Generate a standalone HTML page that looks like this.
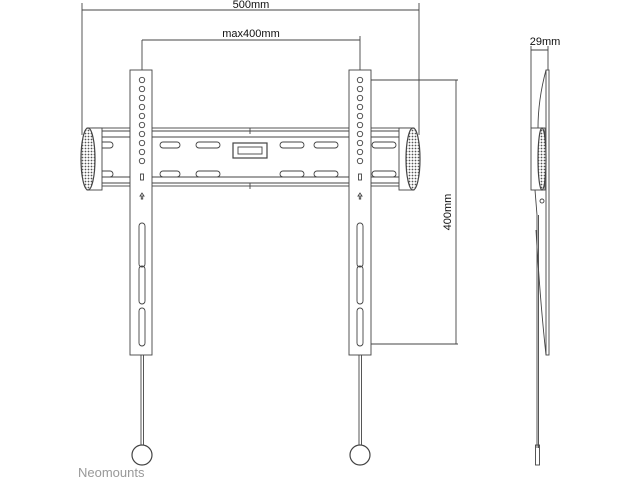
<!DOCTYPE html>
<html><head><style>body{margin:0;background:#fff}svg{display:block}</style></head><body>
<svg width="640" height="480" viewBox="0 0 640 480" xmlns="http://www.w3.org/2000/svg" font-family="Liberation Sans, sans-serif">
<defs><pattern id="h" width="3" height="3" patternUnits="userSpaceOnUse"><rect width="3" height="3" fill="#fff"/><circle cx="1.5" cy="1.5" r="0.9" fill="#555"/></pattern></defs>
<g stroke="#444" fill="none" stroke-width="0.9">
<line x1="82" y1="10" x2="419" y2="10"/><line x1="82" y1="3" x2="82" y2="135"/><line x1="419" y1="3" x2="419" y2="135"/>
<line x1="142" y1="40" x2="360" y2="40"/><line x1="142" y1="40" x2="142" y2="80"/><line x1="360" y1="36" x2="360" y2="80"/>
<line x1="360" y1="80" x2="458" y2="80"/><line x1="360" y1="344" x2="458" y2="344"/><line x1="456" y1="80" x2="456" y2="344"/>
<rect x="92" y="128" width="318" height="58" fill="#fff"/>
<line x1="92" y1="131" x2="410" y2="131"/><line x1="92" y1="137" x2="410" y2="137"/>
<line x1="92" y1="177" x2="410" y2="177"/><line x1="92" y1="183" x2="410" y2="183"/>
<g>
<rect x="97" y="142" width="16" height="6" rx="3"/><rect x="160" y="142" width="20" height="6" rx="3"/><rect x="196" y="142" width="24" height="6" rx="3"/>
<rect x="280" y="142" width="24" height="6" rx="3"/><rect x="314" y="142" width="24" height="6" rx="3"/><rect x="372" y="142" width="24" height="6" rx="3"/>
<rect x="97" y="171" width="16" height="6" rx="3"/><rect x="160" y="171" width="20" height="6" rx="3"/><rect x="196" y="171" width="24" height="6" rx="3"/>
<rect x="280" y="171" width="24" height="6" rx="3"/><rect x="314" y="171" width="24" height="6" rx="3"/><rect x="372" y="171" width="24" height="6" rx="3"/>
</g>
<rect x="233" y="143" width="34" height="15" fill="#fff" stroke-width="1.2"/><rect x="238" y="147" width="24" height="7"/>
<rect x="87" y="128" width="15" height="62" fill="#fff"/>
<ellipse cx="88" cy="159" rx="7" ry="31" fill="url(#h)" stroke-width="1.2"/>
<rect x="399" y="128" width="15" height="62" fill="#fff"/>
<ellipse cx="413" cy="159" rx="7" ry="31" fill="url(#h)" stroke-width="1.2"/>
<rect x="130" y="70" width="22" height="285" fill="#fff"/>
<rect x="349" y="70" width="22" height="285" fill="#fff"/>
<g id="hl">
<circle cx="142" cy="80" r="2.7"/><circle cx="142" cy="89" r="2.7"/><circle cx="142" cy="98" r="2.7"/><circle cx="142" cy="107" r="2.7"/><circle cx="142" cy="116" r="2.7"/><circle cx="142" cy="125" r="2.7"/><circle cx="142" cy="134" r="2.7"/><circle cx="142" cy="143" r="2.7"/><circle cx="142" cy="152" r="2.7"/><circle cx="142" cy="161" r="2.7"/>
<rect x="140.5" y="174" width="3" height="6"/>
<path d="M142 193 l-2 3 h1.3 v3 h1.4 v-3 h1.3z"/>
<rect x="139" y="223" width="6" height="44" rx="3"/><rect x="139" y="266" width="6" height="38" rx="3"/><rect x="139" y="308" width="6" height="38" rx="3"/>
<line x1="141" y1="355" x2="141" y2="445"/><line x1="143.5" y1="355" x2="143.5" y2="445"/>
<circle cx="142" cy="455" r="10" stroke-width="1.2" fill="#fff"/>
</g>
<use href="#hl" transform="translate(218 0)"/>
<line x1="250" y1="128" x2="250" y2="134"/><line x1="250" y1="183" x2="250" y2="189"/>
<line x1="531" y1="50" x2="548" y2="50"/><line x1="531" y1="46" x2="531" y2="128"/><line x1="548" y1="46" x2="548" y2="70"/>
<rect x="546" y="70" width="3" height="285" fill="#fff"/>
<path d="M546 70 Q538 100 538 128"/><path d="M546 355 Q540 300 536 230"/>
<rect x="531" y="128" width="14" height="62" fill="#fff"/>
<ellipse cx="542" cy="159" rx="4" ry="31" fill="url(#h)" stroke-width="1.2"/>
<circle cx="542" cy="201" r="2"/>
<path d="M535 190 L537 215 L537 448"/><line x1="538.5" y1="215" x2="538.5" y2="448"/>
<rect x="535.5" y="445" width="4" height="20"/>
</g>
<g font-size="11" fill="#111" text-anchor="middle">
<text x="251" y="8">500mm</text>
<text x="251" y="37">max400mm</text>
<text x="545" y="45">29mm</text>
<text transform="translate(451 212) rotate(-90)">400mm</text>
</g>
<text x="78" y="477" font-size="13" fill="#999">Neomounts</text>
</svg>
</body></html>
